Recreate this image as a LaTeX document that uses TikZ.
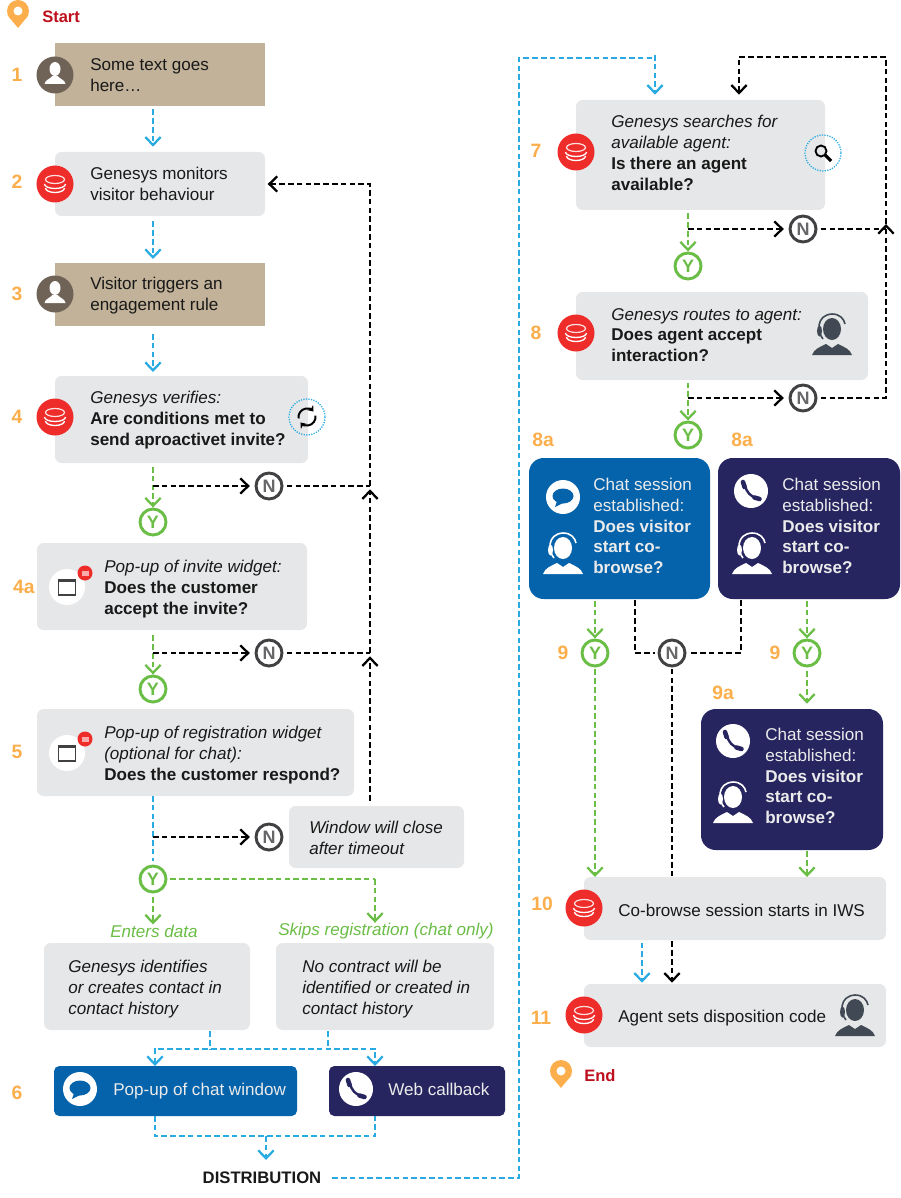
\documentclass[tikz,border=0pt]{standalone}
\usepackage{fontspec}
\setmainfont{Liberation Sans}
\usetikzlibrary{arrows.meta,fit}

\definecolor{boxgrey}{HTML}{E6E7E8}
\definecolor{boxtan}{HTML}{C1B299}
\definecolor{boxblue}{HTML}{0463AB}
\definecolor{boxnavy}{HTML}{272560}
\definecolor{flowblue}{HTML}{29ABE2}
\definecolor{flowgreen}{HTML}{6ABD45}
\definecolor{numorange}{HTML}{FBAE4B}
\definecolor{startred}{HTML}{BE0F1E}
\definecolor{darkgrey}{HTML}{414042}
\definecolor{agentgrey}{HTML}{414A54}
\definecolor{persongrey}{HTML}{6F6256}
\definecolor{genred}{HTML}{EE2D2B}

\tikzset{
	>={Straight Barb[length=6pt,width=11.5pt]},
	greybox/.style={rectangle,fill=boxgrey,rounded corners=5pt,inner sep=0pt,outer sep=0pt},
	tanbox/.style={rectangle,fill=boxtan,inner sep=0pt,outer sep=0pt},
	bluebox/.style={rectangle,fill=boxblue,rounded corners=#1,inner sep=0pt,outer sep=0pt},
	navybox/.style={rectangle,fill=boxnavy,rounded corners=#1,inner sep=0pt,outer sep=0pt},
	txt/.style={anchor=west,align=left,inner sep=0pt,text=black!90,font=\fontsize{12.8}{15.6}\selectfont},
	wtxt/.style={txt,text=white!92!black},
	greentxt/.style={txt,text=flowgreen,font=\fontsize{12.8}{15.6}\selectfont\itshape},
	stepnum/.style={inner sep=0pt,text=numorange,font=\fontsize{14.5}{16}\selectfont\bfseries},
	endtxt/.style={anchor=west,inner sep=0pt,text=startred,font=\fontsize{12.4}{15}\selectfont\bfseries},
	yesnode/.style={circle,draw=flowgreen,line width=2.2pt,minimum size=19.5pt,inner sep=0pt,text=flowgreen,font=\fontsize{13.5}{13}\selectfont\bfseries},
	nonode/.style={circle,draw=darkgrey,line width=2.2pt,minimum size=19.5pt,inner sep=0pt,text=darkgrey!80,font=\fontsize{13.5}{13}\selectfont\bfseries},
	blueflow/.style={draw=flowblue,line width=1.7pt,dash pattern=on 4.2pt off 2.4pt},
	greenflow/.style={draw=flowgreen,line width=1.7pt,dash pattern=on 4.2pt off 2.4pt},
	blackflow/.style={draw=black,line width=1.7pt,dash pattern=on 4.2pt off 2.4pt},
	pin icon/.pic={
		\fill[numorange] (0,0) circle[radius=11];
		\fill[numorange] (-10.5,3.5) .. controls (-8,8) and (-3,13) .. (0,17) .. controls (3,13) and (8,8) .. (10.5,3.5) -- cycle;
		\fill[white] (0,0) circle[radius=4.5];
	},
	genesys icon/.pic={
		\fill[genred] (0,0) circle[radius=18.5];
		\draw[white!85!genred,line width=.9pt] (0,-4.5) ellipse[x radius=9.5,y radius=4];
		\draw[white,line width=1pt] (-10.5,0) arc[start angle=180,end angle=0,x radius=10.5,y radius=4.5];
		\draw[white,line width=1pt] (-9.5,4) arc[start angle=180,end angle=0,x radius=9.5,y radius=4.5];
	},
	person icon/.pic={
		\fill[persongrey] (0,0) circle[radius=18.5];
		\fill[white] (0,-6) ellipse[x radius=5.5,y radius=7];
		\fill[white] (-10.5,9) .. controls (-10,5) and (-5,4) .. (-2.5,1) -- (2.5,1) .. controls (5,4) and (10,5) .. (10.5,9) -- cycle;
	},
	agent icon/.pic={
		\fill[#1] (0,-5) ellipse[x radius=9,y radius=11];
		\fill[#1] (-20,21) .. controls (-18,15) and (-12,13) .. (-6,10) -- (0,14) -- (6,10) .. controls (12,13) and (18,15) .. (20,21) -- cycle;
		\draw[#1,line width=1.2pt] (-9,5) .. controls (-15,-2) and (-16,-19) .. (0,-20) .. controls (8,-20) and (12,-15) .. (13,-10);
		\fill[#1] (-12.5,-3) ellipse[x radius=2.5,y radius=5.5];
	},
	chat icon/.pic={
		\fill[white] (0,0) circle[radius=17];
		\fill[#1] (0,-1) ellipse[x radius=10.5,y radius=7.5];
		\fill[#1] (-6,4) -- (-8,10) -- (0,6) -- cycle;
	},
	phone icon/.pic={
		\fill[white] (0,0) circle[radius=17];
		\draw[#1,line width=1.8pt] (-6,-6) .. controls (-5,1) and (0,6) .. (6,7);
		\draw[#1,line width=3.4pt,line cap=round] (-8,-9) -- (-6.5,-4);
		\draw[#1,line width=3.4pt,line cap=round] (3.5,6.5) -- (8.5,8);
	},
	widget icon/.pic={
		\fill[white] (0,0) circle[radius=18];
		\draw[darkgrey,line width=1pt] (-8.5,-7) rectangle (8.5,8);
		\fill[darkgrey] (-9,-8) rectangle (9,-5);
		\fill[genred] (18,-14) circle[radius=7.5];
		\fill[white!60!genred] (14.5,-16) rectangle (21.5,-11);
	},
	refresh icon/.pic={
		\draw[flowblue,line width=1pt,dash pattern=on .9pt off 1pt] (0,0) circle[radius=18];
		\draw[black,line width=1.5pt,-{Stealth[length=4pt,width=6pt]}] (170:8.5) arc[start angle=170,end angle=320,radius=8.5];
		\draw[black,line width=1.5pt,-{Stealth[length=4pt,width=6pt]}] (-10:8.5) arc[start angle=-10,end angle=140,radius=8.5];
	},
	search icon/.pic={
		\draw[flowblue,line width=1pt,dash pattern=on .9pt off 1pt] (0,0) circle[radius=18];
		\draw[black,line width=1.4pt] (-2,-2) circle[radius=5.5];
		\draw[black,line width=2.4pt] (2,2) -- (8,8);
	},
}

\begin{document}
\begin{tikzpicture}[x=.75pt,y=-.75pt]
	\useasboundingbox (0,0) rectangle (900,1198);

	\coordinate (colA) at (153,0);
	\coordinate (trunkL) at (370,486);
	\coordinate (trunkLb) at (370,653);
	\coordinate (trunkLtop) at (370,184);
	\coordinate (trunkR) at (886,398);
	\coordinate (trunkRtip) at (886,224);
	\coordinate (trunkRtop) at (886,57);
	\coordinate (backTop) at (739,57);
	\coordinate (distCorner) at (519,1178);
	\coordinate (distCornerTop) at (519,58);
	\coordinate (distTop) at (655,58);
	\coordinate (distTick) at (655,55);

	% left column
	\pic at (18,11) {pin icon};
	\node at (42,17) [endtxt] (start) {Start};

	\node [tanbox,fit={(55,43) (265,106)}] (box1) {};
	\node [greybox,fit={(55,152) (265,216)}] (box2) {};
	\node [tanbox,fit={(55,263) (265,326)}] (box3) {};
	\node [greybox,fit={(55,376) (308,463)}] (box4) {};
	\node [greybox,fit={(37,543) (307,630)}] (box4a) {};
	\node [greybox,fit={(37,709) (354,796)}] (box5) {};
	\node [greybox,fit={(289,806) (464,868)}] (boxclose) {};
	\node [greybox,fit={(44,943) (250,1030)}] (boxdata) {};
	\node [greybox,fit={(276,943) (494,1030)}] (boxskip) {};
	\node [bluebox=4pt,fit={(54,1066) (297,1116)}] (boxchat) {};
	\node [navybox=4pt,fit={(329,1066) (505,1116)}] (boxweb) {};

	\node at (17,75) [stepnum] (num1) {1};
	\node at (17,182) [stepnum] (num2) {2};
	\node at (17,294) [stepnum] (num3) {3};
	\node at (17,417) [stepnum] (num4) {4};
	\node at (24,587) [stepnum] (num4a) {4a};
	\node at (17,752) [stepnum] (num5) {5};
	\node at (17,1093) [stepnum] (num6) {6};

	\pic at (55,75) {person icon};
	\pic at (55,184) {genesys icon};
	\pic at (55,294) {person icon};
	\pic at (55,417) {genesys icon};
	\pic at (307,417) {refresh icon};
	\pic at (67,587) {widget icon};
	\pic at (67,753) {widget icon};
	\pic at (80,1089) {chat icon=boxblue};
	\pic at (356,1089) {phone icon=boxnavy};

	\node at (90,75) [txt] (txt1) {Some text goes\\here…};
	\node at (90,184) [txt] (txt2) {Genesys monitors\\visitor behaviour};
	\node at (90,295.5) [txt] (txt3) {Visitor triggers an\\engagement rule};
	\node at (90,420) [txt] (txt4) {\textit{Genesys verifies:}\\\textbf{Are conditions met to}\\\textbf{send aproactivet invite?}};
	\node at (104,589) [txt] (txt4a) {\textit{Pop-up of invite widget:}\\\textbf{Does the customer}\\\textbf{accept the invite?}};
	\node at (104,755) [txt] (txt5) {\textit{Pop-up of registration widget}\\\textit{(optional for chat):}\\\textbf{Does the customer respond?}};
	\node at (309,838) [txt] (txtclose) {\textit{Window will close}\\\textit{after timeout}};
	\node at (110,931) [greentxt] (enters) {Enters data};
	\node at (278,931) [greentxt] (skips) {Skips registration (chat only)};
	\node at (68,989) [txt] (txtdata) {\textit{Genesys identifies}\\\textit{or creates contact in}\\\textit{contact history}};
	\node at (302,989) [txt] (txtskip) {\textit{No contract will be}\\\textit{identified or created in}\\\textit{contact history}};
	\node at (113,1091) [wtxt] (txtchat) {Pop-up of chat window};
	\node at (388,1089) [wtxt] (txtweb) {Web callback};
	\node at (262,1178) [txt,anchor=center,font=\fontsize{12.5}{15.6}\selectfont\bfseries] (dist) {DISTRIBUTION};

	\node at (153,522) [yesnode] (y4) {Y};
	\node at (269,486) [nonode] (n4) {N};
	\node at (153,689) [yesnode] (y4a) {Y};
	\node at (269,653) [nonode] (n4a) {N};
	\node at (153,879) [yesnode] (y5) {Y};
	\node at (269,837) [nonode] (n5) {N};

	\coordinate (j4) at (153,486);
	\coordinate (j4a) at (153,653);
	\coordinate (j5) at (153,837);
	\coordinate (skipCorner) at (375,879);
	\coordinate (mergeA) at (155,1049);
	\coordinate (mergeB) at (375,1049);
	\coordinate (mergeC) at (155,1136);
	\coordinate (mergeD) at (375,1136);
	\coordinate (mergeE) at (266,1136);
	\coordinate (dropA) at (210,1049);
	\coordinate (dropB) at (328,1049);
	\coordinate (distArrow) at (266,1160);

	\draw[blueflow,->,shorten <=2.5pt,shorten >=4pt] (box1.south -| colA) -- (box2.north -| colA);
	\draw[blueflow,->,shorten <=4pt,shorten >=3pt] (box2.south -| colA) -- (box3.north -| colA);
	\draw[blueflow,->,shorten <=6pt,shorten >=3pt] (box3.south -| colA) -- (box4.north -| colA);
	\draw[greenflow,->,shorten <=3pt] (box4.south -| y4) -- (y4.north);
	\draw[greenflow,->,shorten <=4pt] (box4a.south -| y4a) -- (y4a.north);
	\draw[blueflow] (box5.south -| y5) -- ([yshift=3pt]y5.north);
	\draw[greenflow,->,shorten <=3pt] (y5.south) -- (enters.north -| y5);
	\draw[greenflow,shorten <=2pt] (y5.east) -- (skipCorner);
	\draw[greenflow,->] (skipCorner) -- (skips.north -| skipCorner);

	\draw[blackflow,->,shorten >=3.5pt] (j4) -- (n4.west);
	\draw[blackflow,->,shorten >=3.5pt] (j4a) -- (n4a.west);
	\draw[blackflow,->,shorten >=3.5pt] (j5) -- (n5.west);
	\draw[blackflow,shorten <=2.5pt] (n4.east) -- (trunkL);
	\draw[blackflow,shorten <=2.5pt] (n4a.east) -- (trunkLb);
	\draw[blackflow,->,shorten <=4pt,shorten >=2.5pt] (boxclose.north -| trunkL) -- (trunkLb);
	\draw[blackflow,->,shorten >=2.5pt] (trunkLb) -- (trunkL);
	\draw[blackflow,->,shorten >=2pt] (trunkL) -- (trunkLtop) -- (box2.east |- trunkLtop);

	\draw[blueflow,shorten <=1pt] (boxdata.south -| dropA) -- (dropA);
	\draw[blueflow,shorten <=1pt] (boxskip.south -| dropB) -- (dropB);
	\draw[blueflow,<->] (boxchat.north -| mergeA) -- (mergeA) -- (mergeB) -- (boxweb.north -| mergeB);
	\draw[blueflow] (boxchat.south -| mergeC) -- (mergeC) -- (mergeD) -- (boxweb.south -| mergeD);
	\draw[blueflow,->] (mergeE) -- (distArrow);

	% right column
	\node [greybox,fit={(576,100) (825,210)}] (box7) {};
	\node [greybox,fit={(576,292) (868,380)}] (box8) {};
	\node [bluebox=11pt,fit={(529,458) (710,599)}] (box8a) {};
	\node [navybox=11pt,fit={(718,458) (900,599)}] (box8b) {};
	\node [navybox=11pt,fit={(701,709) (883,850)}] (box9a) {};
	\node [greybox,fit={(584,877) (886,940)}] (box10) {};
	\node [greybox,fit={(584,984) (886,1047)}] (box11) {};

	\node at (536,151) [stepnum] (num7) {7};
	\node at (536,333) [stepnum] (num8) {8};
	\node at (543,440) [stepnum] (num8a) {8a};
	\node at (742,440) [stepnum] (num8b) {8a};
	\node at (563,653) [stepnum] (num9) {9};
	\node at (775,653) [stepnum] (num9b) {9};
	\node at (723,693) [stepnum] (num9a) {9a};
	\node at (542,904) [stepnum] (num10) {10};
	\node at (541,1018) [stepnum] (num11) {11};

	\pic at (576,152) {genesys icon};
	\pic at (823,153) {search icon};
	\pic at (576,333) {genesys icon};
	\pic at (832,334) {agent icon=agentgrey};
	\pic at (563,497) {chat icon=boxblue};
	\pic at (563,553) {agent icon=white};
	\pic at (751,491) {phone icon=boxnavy};
	\pic at (752,553) {agent icon=white};
	\pic at (733,741) {phone icon=boxnavy};
	\pic at (733,802) {agent icon=white};
	\pic at (584,908) {genesys icon};
	\pic at (584,1015) {genesys icon};
	\pic at (855,1015) {agent icon=agentgrey};
	\pic at (561,1071) {pin icon};
	\node at (584,1076) [endtxt] (finish) {End};

	\node at (611,153) [txt] (txt7) {\textit{Genesys searches for}\\\textit{available agent:}\\\textbf{Is there an agent}\\\textbf{available?}};
	\node at (611,335) [txt] (txt8) {\textit{Genesys routes to agent:}\\\textbf{Does agent accept}\\\textbf{interaction?}};
	\node at (593,526) [wtxt] (txt8a) {Chat session\\established:\\\textbf{Does visitor}\\\textbf{start co-}\\\textbf{browse?}};
	\node at (782,526) [wtxt] (txt8b) {Chat session\\established:\\\textbf{Does visitor}\\\textbf{start co-}\\\textbf{browse?}};
	\node at (765,776) [wtxt] (txt9a) {Chat session\\established:\\\textbf{Does visitor}\\\textbf{start co-}\\\textbf{browse?}};
	\node at (618,910) [txt] (txt10) {Co-browse session starts in IWS};
	\node at (618,1018) [txt] (txt11) {Agent sets disposition code};

	\node at (688,266) [yesnode] (y7) {Y};
	\node at (803,229) [nonode] (n7) {N};
	\node at (688,435) [yesnode] (y8) {Y};
	\node at (803,398) [nonode] (n8) {N};
	\node at (595,653) [yesnode] (y9) {Y};
	\node at (672,653) [nonode] (n9) {N};
	\node at (807,653) [yesnode] (y9b) {Y};

	\coordinate (j7) at (688,229);
	\coordinate (j8) at (688,398);
	\coordinate (noA) at (635,653);
	\coordinate (noB) at (741,653);
	\coordinate (blueDrop) at (642,943);

	\draw[blueflow,shorten <=8pt] (dist.east) -- (distCorner) -- (distCornerTop) -- (distTop);
	\draw[blueflow,->,shorten >=4pt] (distTick) -- (box7.north -| distTick);

	\draw[greenflow,->,shorten <=2.5pt] (box7.south -| y7) -- (y7.north);
	\draw[greenflow,->,shorten <=2pt] (box8.south -| y8) -- (y8.north);
	\draw[blackflow,->,shorten >=3.5pt] (j7) -- (n7.west);
	\draw[blackflow,->,shorten >=3.5pt] (j8) -- (n8.west);
	\draw[blackflow,shorten <=2.5pt] (n7.east) -- (n7.east -| trunkR);
	\draw[blackflow,->,shorten <=2.5pt] (n8.east) -- (trunkR) -- (trunkRtip);
	\draw[blackflow,->,shorten >=4pt] (trunkRtip) -- (trunkRtop) -- (backTop) -- (box7.north -| backTop);

	\draw[greenflow,->,shorten <=1.5pt] (box8a.south -| y9) -- (y9.north);
	\draw[greenflow,->,shorten <=1.5pt] (box8b.south -| y9b) -- (y9b.north);
	\draw[blackflow,shorten <=1pt,shorten >=2pt] (box8a.south -| noA) -- (noA) -- (n9.west);
	\draw[blackflow,shorten <=1pt,shorten >=2pt] (box8b.south -| noB) -- (noB) -- (n9.east);
	\draw[greenflow,->,shorten <=1.5pt] (y9.south) -- (box10.north -| y9);
	\draw[greenflow,->,shorten <=3pt,shorten >=4pt] (y9b.south) -- (box9a.north -| y9b);
	\draw[greenflow,->,shorten <=1pt] (box9a.south -| y9b) -- (box10.north -| y9b);
	\draw[blackflow,shorten <=1pt,shorten >=1pt] (n9.south) -- (box10.north -| n9);
	\draw[blackflow,->,shorten <=1pt,shorten >=1pt] (box10.south -| n9) -- (box11.north -| n9);
	\draw[blueflow,->,shorten <=2pt,shorten >=1pt] (box10.south -| blueDrop) -- (box11.north -| blueDrop);
\end{tikzpicture}
\end{document}
